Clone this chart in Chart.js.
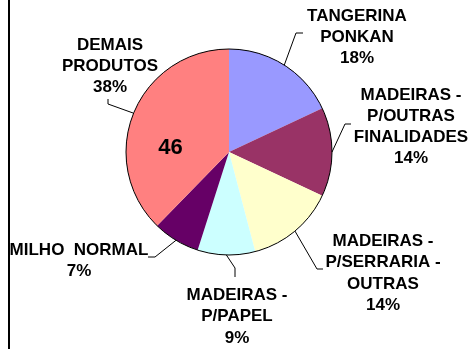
<!DOCTYPE html>
<html>
<head>
<meta charset="utf-8">
<script src="https://cdn.jsdelivr.net/npm/chart.js@4/dist/chart.umd.min.js"></script>
<style>
  body { margin: 0; background: #fff; }
  canvas { display: block; }
</style>
</head>
<body>
<canvas id="pie-chart" width="470" height="349"></canvas>
<script>
// products (clockwise from 12 o'clock)
var produtos = [
  ["TANGERINA", "PONKAN"],
  ["MADEIRAS -", "P/OUTRAS", "FINALIDADES"],
  ["MADEIRAS -", "P/SERRARIA -", "OUTRAS"],
  ["MADEIRAS -", "P/PAPEL"],
  ["MILHO  NORMAL"],
  ["DEMAIS", "PRODUTOS"]
];
var valores = [22, 17, 17, 11, 9, 46];
var cores = ["#9999FF", "#993366", "#FFFFCC", "#CCFFFF", "#660066", "#FF8080"];

// where each label sits and how its leader line bends
var labelPos = [
  { x: 357, y: 20.5, elbow: [296, 33], end: [303, 33] },
  { x: 411, y: 99.5, elbow: [345, 124], end: [351, 124] },
  { x: 383, y: 246, elbow: [317, 269], end: [323, 269] },
  { x: 237, y: 300, elbow: [235, 268], end: [235, 277] },
  { x: 79, y: 254.5, elbow: [155, 257], end: [148, 257] },
  { x: 110, y: 49.5, elbow: [108, 104], end: [108, 99] }
];
var lineH = 21.3;
var valorPos = { x: 170.5, y: 154 }; // value printed inside DEMAIS slice

var total = valores.reduce(function(a, b){ return a + b; }, 0);

function pct(v){
  return Math.round(v / total * 100) + "%";
}

// outline, leader lines and labels
var labelsPlugin = {
  id: "labelsPlugin",
  afterDatasetsDraw: function(chart){
    var ctx = chart.ctx;
    var arcs = chart.getDatasetMeta(0).data;
    var cx = arcs[0].x, cy = arcs[0].y, r = arcs[0].outerRadius;

    ctx.save();
    ctx.strokeStyle = "#000";
    ctx.lineWidth = 1;
    ctx.beginPath();
    ctx.arc(cx, cy, r, 0, Math.PI * 2);
    ctx.stroke();

    ctx.fillStyle = "#000";
    ctx.textAlign = "center";
    ctx.textBaseline = "alphabetic";
    ctx.font = "bold 17px 'Liberation Sans', Arial, sans-serif";

    arcs.forEach(function(arc, i){
      var mid = (arc.startAngle + arc.endAngle) / 2;
      var p = labelPos[i];
      ctx.beginPath();
      ctx.moveTo(cx + Math.cos(mid) * r, cy + Math.sin(mid) * r);
      ctx.lineTo(p.elbow[0], p.elbow[1]);
      ctx.lineTo(p.end[0], p.end[1]);
      ctx.stroke();

      var lines = produtos[i].concat([pct(valores[i])]);
      lines.forEach(function(t, k){
        ctx.fillText(t, p.x, p.y + k * lineH);
      });
    });

    ctx.font = "bold 22px 'Liberation Sans', Arial, sans-serif";
    ctx.fillText(String(valores[5]), valorPos.x, valorPos.y);
    ctx.restore();
  }
};

// left frame line
var framePlugin = {
  id: "framePlugin",
  afterDraw: function(chart){
    var ctx = chart.ctx;
    ctx.save();
    ctx.fillStyle = "#000";
    ctx.fillRect(8, 0, 2, chart.height);
    ctx.restore();
  }
};

var pieChart = new Chart(document.getElementById("pie-chart"), {
  type: "pie",
  data: {
    labels: produtos.map(function(l){ return l.join(" "); }),
    datasets: [{
      data: valores,
      backgroundColor: cores,
      borderWidth: 0
    }]
  },
  options: {
    responsive: false,
    animation: false,
    devicePixelRatio: 1,
    layout: { padding: { left: 126, right: 138, top: 49, bottom: 94 } },
    plugins: {
      legend: { display: false },
      tooltip: { enabled: false }
    }
  },
  plugins: [labelsPlugin, framePlugin]
});
</script>
</body>
</html>
